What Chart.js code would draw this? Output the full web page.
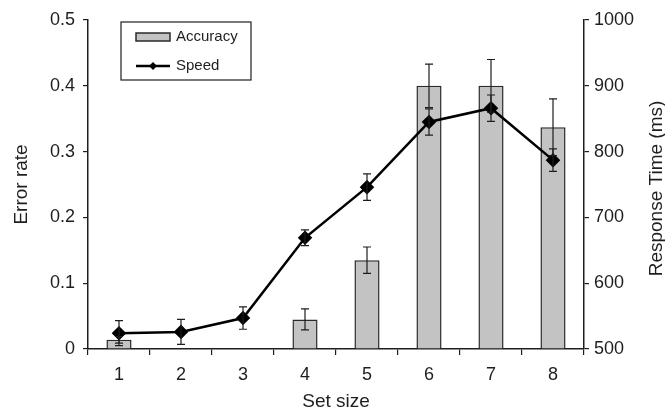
<!DOCTYPE html>
<html lang="en">
<head>
    <meta charset="UTF-8">
    <title>Set size: accuracy and speed</title>
    <style>
        html, body { margin: 0; padding: 0; background: #ffffff; }
        #wrap { width: 665px; height: 413px; }
    </style>
</head>
<body>
    <div id="wrap"><canvas id="set-chart" width="665" height="413"></canvas></div>

    <script src="https://cdn.jsdelivr.net/npm/chart.js"></script>
    <script>
        // set sizes on the x axis
        const setSizes = ['1', '2', '3', '4', '5', '6', '7', '8'];
        // error rate per set size (bars, left axis) and its error
        const errorRate = [0.014, 0, 0, 0.045, 0.135, 0.4, 0.4, 0.337];
        const errorRateErr = [0.005, 0, 0, 0.016, 0.02, 0.033, 0.04, 0.043];
        // response time in ms (line, right axis) and its error
        const responseTime = [524, 526, 547, 669, 746, 845, 866, 787];
        const responseTimeErr = [19, 19, 17, 12, 20, 20, 20, 17];
        // axis tick values
        const errorTicks = [0, 0.1, 0.2, 0.3, 0.4, 0.5];
        const timeTicks = [500, 600, 700, 800, 900, 1000];

        const ink = '#1e1e1e';
        const fontFamily = '"Liberation Sans", Arial, sans-serif';
        const rightTitle = 'Response Time (ms)';

        // error bars with caps, drawn through the dataset's own scales
        const errorBars = {
            id: 'errorBars',
            afterDatasetsDraw(chart) {
                const ctx = chart.ctx;
                const x = chart.scales.x;
                const sets = [
                    { axis: chart.scales.yErr, values: errorRate, errs: errorRateErr },
                    { axis: chart.scales.yTime, values: responseTime, errs: responseTimeErr }
                ];
                ctx.save();
                ctx.strokeStyle = ink;
                ctx.lineWidth = 1.2;
                sets.forEach(s => {
                    s.values.forEach((v, i) => {
                        if (!s.errs[i]) return;
                        const px = x.getPixelForValue(i);
                        const top = s.axis.getPixelForValue(v + s.errs[i]);
                        const bot = s.axis.getPixelForValue(v - s.errs[i]);
                        ctx.beginPath();
                        ctx.moveTo(px, top); ctx.lineTo(px, bot);
                        ctx.moveTo(px - 4, top); ctx.lineTo(px + 4, top);
                        ctx.moveTo(px - 4, bot); ctx.lineTo(px + 4, bot);
                        ctx.stroke();
                    });
                });
                ctx.restore();
            }
        };

        // boxed legend in the upper left of the plot, plus the right axis title reading upwards
        const boxLegend = {
            id: 'boxLegend',
            afterDraw(chart) {
                const ctx = chart.ctx;
                const area = chart.chartArea;
                const bx = area.left + 33, by = area.top + 2, bw = 130, bh = 58;
                const ds = chart.data.datasets;
                ctx.save();
                ctx.fillStyle = '#ffffff';
                ctx.fillRect(bx, by, bw, bh);
                ctx.strokeStyle = ink;
                ctx.lineWidth = 1.2;
                ctx.strokeRect(bx, by, bw, bh);

                // bar swatch
                ctx.fillStyle = ds[0].backgroundColor;
                ctx.fillRect(bx + 15, by + 11, 34, 8);
                ctx.strokeStyle = ds[0].borderColor;
                ctx.lineWidth = 1.5;
                ctx.strokeRect(bx + 15, by + 11, 34, 8);

                // line swatch with diamond
                const ly = by + 44;
                ctx.strokeStyle = ds[1].borderColor;
                ctx.lineWidth = 2.5;
                ctx.beginPath();
                ctx.moveTo(bx + 15, ly); ctx.lineTo(bx + 49, ly);
                ctx.stroke();
                ctx.fillStyle = ds[1].pointBackgroundColor;
                ctx.beginPath();
                ctx.moveTo(bx + 32, ly - 4); ctx.lineTo(bx + 36, ly);
                ctx.lineTo(bx + 32, ly + 4); ctx.lineTo(bx + 28, ly);
                ctx.closePath();
                ctx.fill();

                ctx.fillStyle = ink;
                ctx.font = '15px ' + fontFamily;
                ctx.textBaseline = 'middle';
                ctx.fillText(ds[0].label, bx + 55, by + 15);
                ctx.fillText(ds[1].label, bx + 55, ly);

                // right axis title
                const yT = chart.scales.yTime;
                ctx.translate(yT.right - 8, (area.top + area.bottom) / 2 + 4);
                ctx.rotate(-Math.PI / 2);
                ctx.font = '19px ' + fontFamily;
                ctx.textAlign = 'center';
                ctx.fillText(rightTitle, 0, 0);
                ctx.restore();
            }
        };

        const ctx = document.getElementById('set-chart').getContext('2d');
        const chart = new Chart(ctx, {
            type: 'bar',
            data: {
                labels: setSizes,
                datasets: [{
                    type: 'bar',
                    label: 'Accuracy',
                    data: errorRate,
                    yAxisID: 'yErr',
                    backgroundColor: '#c3c3c3',
                    borderColor: '#2a2a2a',
                    borderWidth: 1.5,
                    borderSkipped: 'start',
                    barPercentage: 0.81,
                    categoryPercentage: 0.5,
                    order: 2
                }, {
                    type: 'line',
                    label: 'Speed',
                    data: responseTime,
                    yAxisID: 'yTime',
                    borderColor: '#000000',
                    borderWidth: 2.5,
                    pointStyle: 'rectRot',
                    pointRadius: 5.5,
                    pointBackgroundColor: '#000000',
                    pointBorderColor: '#000000',
                    tension: 0,
                    order: 1
                }]
            },
            options: {
                responsive: false,
                animation: false,
                layout: { padding: { top: 20, left: 0, right: 0, bottom: 0 } },
                plugins: {
                    legend: { display: false },
                    tooltip: { enabled: false }
                },
                scales: {
                    x: {
                        offset: true,
                        grid: { offset: true, drawOnChartArea: false, drawTicks: true, tickLength: 6, color: ink, lineWidth: 1.2 },
                        border: { display: true, color: ink, width: 1.5 },
                        ticks: { color: ink, font: { family: fontFamily, size: 18 }, padding: 9 },
                        title: { display: true, text: 'Set size', color: ink, font: { family: fontFamily, size: 19 }, padding: { top: 0, bottom: 0 } },
                        afterFit(scale) { scale.height = 64; }
                    },
                    yErr: {
                        position: 'left',
                        min: 0,
                        max: 0.5,
                        afterBuildTicks(scale) { scale.ticks = errorTicks.map(v => ({ value: v })); },
                        grid: { drawOnChartArea: false, drawTicks: true, tickLength: 5, color: ink, lineWidth: 1.2 },
                        border: { display: true, color: ink, width: 1.5 },
                        ticks: { color: ink, font: { family: fontFamily, size: 18 }, padding: 8, callback: v => String(v) },
                        title: { display: true, text: 'Error rate', color: ink, font: { family: fontFamily, size: 19 }, padding: { top: 10, bottom: 0 } },
                        afterFit(scale) { scale.width = 88; }
                    },
                    yTime: {
                        position: 'right',
                        min: 500,
                        max: 1000,
                        afterBuildTicks(scale) { scale.ticks = timeTicks.map(v => ({ value: v })); },
                        grid: { drawOnChartArea: false, drawTicks: true, tickLength: 5, color: ink, lineWidth: 1.2 },
                        border: { display: true, color: ink, width: 1.5 },
                        ticks: { color: ink, font: { family: fontFamily, size: 18 }, padding: 5, callback: v => String(v) },
                        afterFit(scale) { scale.width = 81; }
                    }
                }
            },
            plugins: [errorBars, boxLegend]
        });
    </script>
</body>
</html>
